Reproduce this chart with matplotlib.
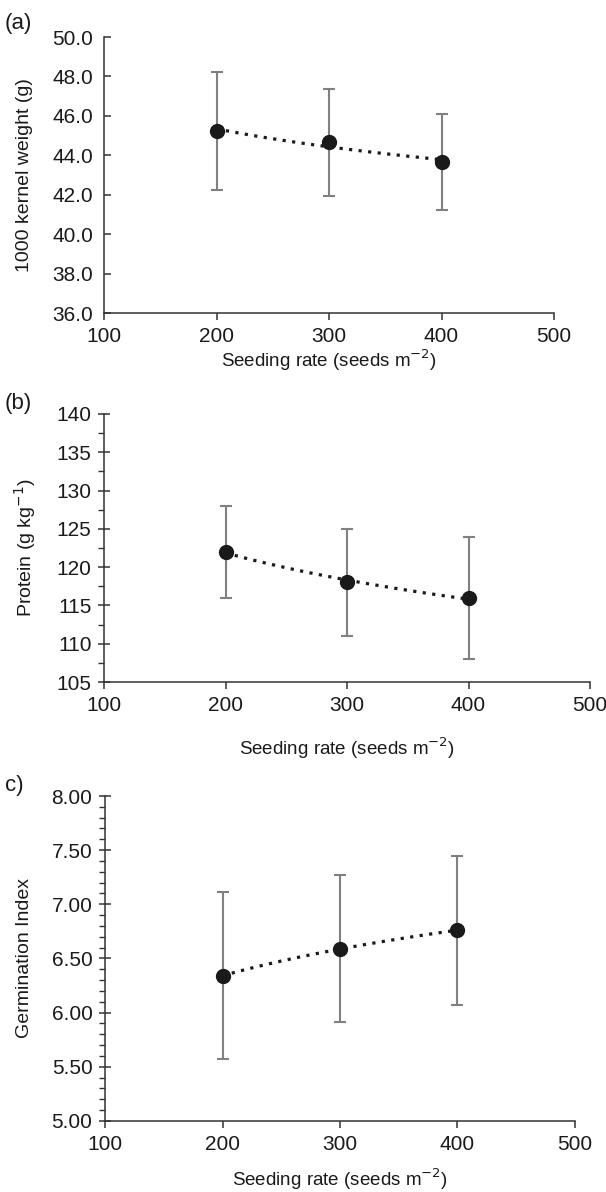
import matplotlib
matplotlib.use("Agg")
import matplotlib.pyplot as plt
import numpy as np
from matplotlib.ticker import MultipleLocator, FormatStrFormatter

# --- data ---------------------------------------------------------------
SEED_RATE = [200, 300, 400]

KERNEL_WT = [45.25, 44.65, 43.65]
KERNEL_ERR = [3.0, 2.7, 2.45]

PROTEIN = [122.0, 118.0, 116.0]
PROTEIN_ERR = [6.0, 7.0, 8.0]

GERM_IDX = [6.34, 6.59, 6.76]
GERM_ERR = [0.77, 0.68, 0.69]

INK = "#1a1a1a"
BAR = "#808080"

plt.rcParams.update({
    "font.family": ["Liberation Sans", "DejaVu Sans"],
    "font.size": 14,
    "axes.edgecolor": "#333333",
    "axes.linewidth": 1.1,
    "xtick.color": "#333333",
    "ytick.color": "#333333",
    "xtick.labelcolor": INK,
    "ytick.labelcolor": INK,
})

W, H = 606, 1192
fig = plt.figure(figsize=(W / 100, H / 100), dpi=100)


def box(x0, x1, y0, y1):
    # pixel box -> figure fraction
    return [x0 / W, 1 - y1 / H, (x1 - x0) / W, (y1 - y0) / H]


def panel(px, y, err, ylim, step, fmt, ylabel, minor=None, xlab_y=-0.15):
    x0, x1, y0, y1 = px
    ax = fig.add_axes(box(x0, x1, y0, y1))
    x = np.array(SEED_RATE, dtype=float)
    yv = np.array(y)
    ax.errorbar(x, yv, yerr=err, fmt="none", ecolor=BAR, elinewidth=1.5,
                capsize=4, capthick=1.5, zorder=2)
    # logarithmic trendline through the means
    k, b = np.polyfit(np.log(x), yv, 1)
    xs = np.linspace(x[0], x[-1], 100)
    ax.plot(xs, k * np.log(xs) + b, ls=(0, (1, 2)), color=INK, lw=2.3,
            zorder=3)
    ax.plot(x, yv, "o", color=INK, ms=10, zorder=4)

    ax.set_xlim(100, 500)
    ax.set_ylim(*ylim)
    ax.xaxis.set_major_locator(MultipleLocator(100))
    ax.yaxis.set_major_locator(MultipleLocator(step))
    ax.yaxis.set_major_formatter(FormatStrFormatter(fmt))
    if minor:
        ax.yaxis.set_minor_locator(MultipleLocator(minor))
        ax.tick_params(axis="y", which="minor", direction="out", length=4,
                       width=1)
        ax.tick_params(axis="y", which="major", direction="inout", length=8,
                       width=1.1, pad=5)
    else:
        ax.tick_params(axis="y", which="major", direction="in", length=5,
                       width=1.1, pad=8)
    ax.tick_params(axis="x", direction="out", length=5, width=1.1,
                   labelsize=15, pad=5)
    ax.tick_params(axis="y", labelsize=15)
    for side in ("top", "right"):
        ax.spines[side].set_visible(False)
    ax.set_xlabel("Seeding rate (seeds m$^{\u22122}$)", fontsize=13.5,
                  color=INK)
    ax.xaxis.set_label_coords(0.5, xlab_y)
    ax.set_ylabel(ylabel, fontsize=14, color=INK, va="center")
    ax.yaxis.set_label_coords((25 - x0) / (x1 - x0), 0.5)
    return ax


ax_a = panel((104, 554, 37, 313), KERNEL_WT, KERNEL_ERR, (36, 50), 2,
             "%.1f", "1000 kernel weight (g)", xlab_y=-0.125)
ax_b = panel((104, 590, 414, 682), PROTEIN, PROTEIN_ERR, (105, 140), 5,
             "%.0f", "Protein (g kg$^{\u22121}$)", minor=2.5, xlab_y=-0.2)
ax_c = panel((105, 575, 796, 1121), GERM_IDX, GERM_ERR, (5, 8), 0.5,
             "%.2f", "Germination Index", minor=0.1, xlab_y=-0.14)

fig.text(5 / W, 1 - 23 / H, "(a)", fontsize=16, color=INK, va="center")
fig.text(5 / W, 1 - 403 / H, "(b)", fontsize=16, color=INK, va="center")
fig.text(5 / W, 1 - 785 / H, "c)", fontsize=16, color=INK, va="center")

fig.savefig("out.png", dpi=100, facecolor="white")
